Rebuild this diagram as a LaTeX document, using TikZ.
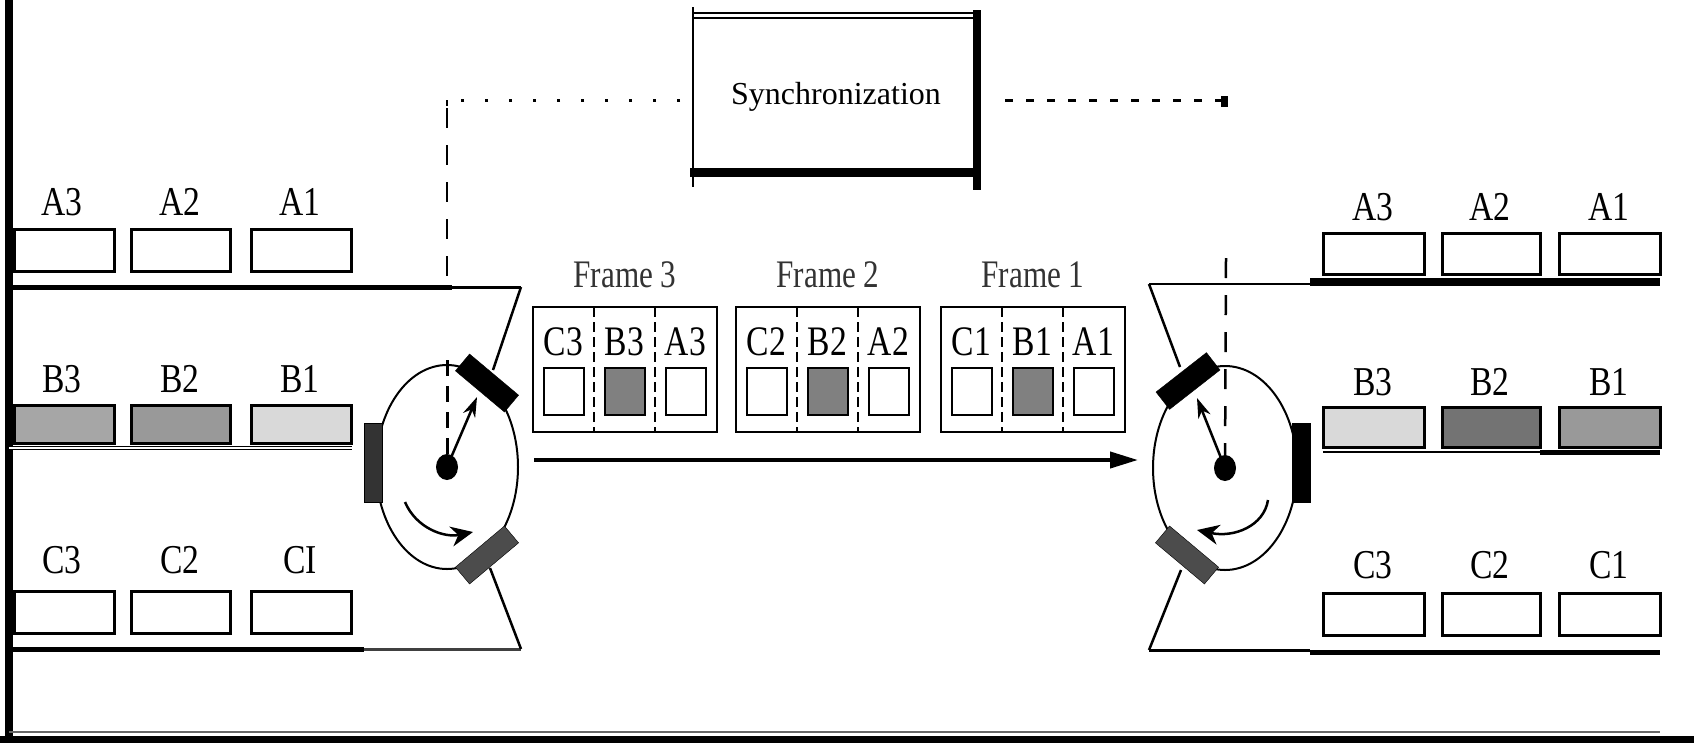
\documentclass[tikz,border=0pt]{standalone}
\usepackage{fontspec}
\usepackage{graphicx}
\setmainfont{Liberation Serif}
\usetikzlibrary{arrows.meta}
\newcommand\nx[1]{\scalebox{0.82}[1]{#1}}
\newcommand\fx[1]{\scalebox{0.8}[1]{#1}}
\begin{document}
\begin{tikzpicture}[x=1pt,y=-1pt,
  every node/.style={inner sep=0pt},
  lab/.style={font=\fontsize{41}{44}\selectfont},
  flab/.style={font=\fontsize{39}{42}\selectfont, text=black!80},
  ilab/.style={font=\fontsize{42}{44}\selectfont},
  slot/.style={draw, line width=3pt},
  sq/.style={draw, line width=2.5pt},
  fbox/.style={draw, line width=2pt},
  divider/.style={line width=2pt, dash pattern=on 10pt off 5pt},
  vdash/.style={line width=2.5pt, dash pattern=on 20pt off 17pt},
  idash/.style={line width=3pt, dash pattern=on 16pt off 10pt},
  dotline/.style={line width=3pt, dash pattern=on 3pt off 21pt},
  dashline/.style={line width=3pt, dash pattern=on 8pt off 13pt},
  disk/.style={line width=2pt},
  tip/.style={-{Stealth[length=20pt,width=13pt]}},
  ctip/.style={-{Stealth[length=22pt,width=20pt,inset=7pt]}}
]
\useasboundingbox (0,0) rectangle (1694,742);
% frame of the figure
\draw[line width=8pt] (9,0) -- (9,742);
\draw[line width=7pt] (0,739) -- (1694,739);
\draw[line width=2pt, black!60] (9,732) -- (1660,732);

% ---------------- synchronization ----------------
\node[font=\fontsize{32}{34}\selectfont] (sync) at (836,97) {Synchronization};
\draw[line width=1.5pt] (693,7) -- (693,187);
\draw[line width=1.2pt] (693,13) -- (977,13);
\draw[line width=1.2pt] (693,18) -- (977,18);
\draw[line width=8pt] (977,10) -- (977,190);
\draw[line width=9pt] (690,172) -- (977,172);
\coordinate (syncW) at (680,100);
\coordinate (syncE) at (1005,100);
\coordinate (cornL) at (447,100);
\coordinate (cornR) at (1224,100);
\coordinate (topL) at (447,285);
\coordinate (topR) at (1226,258);
\draw[dotline] (syncW) -- (cornL);
\draw[line width=2pt] (cornL) -- ++(0,6);
\draw[vdash] (447,108) -- (topL);
\draw[dashline] (syncE) -- (cornR);
\fill (1221,96) rectangle (1228,107);

% ---------------- left store ----------------
\draw[line width=5pt] (9,287) -- (452,287);
\draw[line width=3pt] (452,287) -- (521,287);
\draw[line width=5pt] (9,649) -- (364,649);
\draw[line width=3pt, black!75] (364,649) -- (521,649);
\draw[line width=1pt, double, double distance=2pt] (9,448) -- (352,448);

\node[lab] (lA3) at (62,202) {\nx{A3}};
\node[lab] (lA2) at (180,202) {\nx{A2}};
\node[lab] (lA1) at (300,202) {\nx{A1}};
\draw[slot] (14,229) rectangle (114,271);
\draw[slot] (131,229) rectangle (230,271);
\draw[slot] (251,229) rectangle (351,271);

\node[lab] (lB3) at (62,379) {\nx{B3}};
\node[lab] (lB2) at (180,379) {\nx{B2}};
\node[lab] (lB1) at (300,379) {\nx{B1}};
\draw[slot, fill=black!35] (14,405) rectangle (114,443);
\draw[slot, fill=black!40] (131,405) rectangle (230,443);
\draw[slot, fill=black!15] (251,405) rectangle (351,443);

\node[lab] (lC3) at (62,560) {\nx{C3}};
\node[lab] (lC2) at (180,560) {\nx{C2}};
\node[lab] (lC1) at (300,560) {\nx{CI}};
\draw[slot] (14,591) rectangle (114,633);
\draw[slot] (131,591) rectangle (230,633);
\draw[slot] (251,591) rectangle (351,633);

% left disk
\coordinate (cL) at (447,467);
\draw[disk] (cL) circle[x radius=71pt, y radius=102pt];
\fill (cL) circle[x radius=11pt, y radius=13pt];
\draw[idash] (447,360) -- (cL);
\draw[line width=2.5pt] (521,287) -- (493,370);
\draw[line width=2.5pt] (521,649) -- (490,568);
\draw[fill=black, rotate around={-40:(487,383)}] (455,372) rectangle (519,394);
\draw[fill=black!80] (364,423) rectangle (382,502);
\draw[fill=black!70, rotate around={40:(487,555)}] (455,544) rectangle (519,566);
\draw[line width=2.5pt, tip] (cL) -- (477,397);
\draw[line width=2.5pt, ctip] (405,502) .. controls (416,528) and (444,538) .. (473,532);

% ---------------- frames ----------------
\foreach \i/\x in {3/533, 2/736, 1/941} {
  \node[flab] (ft\i) at (\x+92,275) {\scalebox{0.8}[1]{Frame \i}};
  \draw[fbox] (\x,307) rectangle (\x+184,432);
  \draw[divider] (\x+61,307) -- (\x+61,432);
  \draw[divider] (\x+122,307) -- (\x+122,432);
  \node[ilab] (fC\i) at (\x+30.5,342) {\fx{C\i}};
  \node[ilab] (fB\i) at (\x+91.5,342) {\fx{B\i}};
  \node[ilab] (fA\i) at (\x+152.5,342) {\fx{A\i}};
  \draw[sq] (\x+11,368) rectangle (\x+51,415);
  \draw[sq, fill=black!50] (\x+72,368) rectangle (\x+112,415);
  \draw[sq] (\x+133,368) rectangle (\x+173,415);
}
\coordinate (arrS) at (534,460);
\coordinate (arrE) at (1138,460);
\draw[line width=4pt, -{Triangle[length=28pt,width=16pt]}] (arrS) -- (arrE);

% ---------------- right store ----------------
\draw[line width=2.5pt] (1149,284) -- (1310,284);
\draw[line width=8pt] (1310,282) -- (1660,282);
\draw[line width=3pt] (1149,650) -- (1310,650);
\draw[line width=5pt] (1310,652) -- (1660,652);
\draw[line width=2pt] (1323,452) -- (1540,452);
\draw[line width=5pt] (1540,452) -- (1660,452);

\node[lab] (rA3) at (1373,207) {\nx{A3}};
\node[lab] (rA2) at (1490,207) {\nx{A2}};
\node[lab] (rA1) at (1609,207) {\nx{A1}};
\draw[slot] (1323,233) rectangle (1424,274);
\draw[slot] (1442,233) rectangle (1540,274);
\draw[slot] (1559,233) rectangle (1660,274);

\node[lab] (rB3) at (1373,382) {\nx{B3}};
\node[lab] (rB2) at (1490,382) {\nx{B2}};
\node[lab] (rB1) at (1609,382) {\nx{B1}};
\draw[slot, fill=black!15] (1323,407) rectangle (1424,447);
\draw[slot, fill=black!55] (1442,407) rectangle (1540,447);
\draw[slot, fill=black!40] (1559,407) rectangle (1660,447);

\node[lab] (rC3) at (1373,565) {\nx{C3}};
\node[lab] (rC2) at (1490,565) {\nx{C2}};
\node[lab] (rC1) at (1609,565) {\nx{C1}};
\draw[slot] (1323,593) rectangle (1424,635);
\draw[slot] (1442,593) rectangle (1540,635);
\draw[slot] (1559,593) rectangle (1660,635);

% right disk
\coordinate (cR) at (1225,468);
\draw[disk] (cR) circle[x radius=72pt, y radius=102pt];
\fill (cR) circle[x radius=11pt, y radius=13pt];
\draw[vdash] (topR) -- (cR);
\draw[line width=2.5pt] (1149,284) -- (1180,367);
\draw[line width=2.5pt] (1149,650) -- (1181,570);
\draw[fill=black, rotate around={38:(1188,381)}] (1156,370) rectangle (1220,392);
\draw[fill=black] (1292,423) rectangle (1310,502);
\draw[fill=black!70, rotate around={-40:(1187,555)}] (1155,544) rectangle (1219,566);
\draw[line width=2.5pt, tip] (cR) -- (1197,398);
\draw[line width=2.5pt, ctip] (1268,500) .. controls (1264,526) and (1234,538) .. (1197,530);
\end{tikzpicture}
\end{document}
